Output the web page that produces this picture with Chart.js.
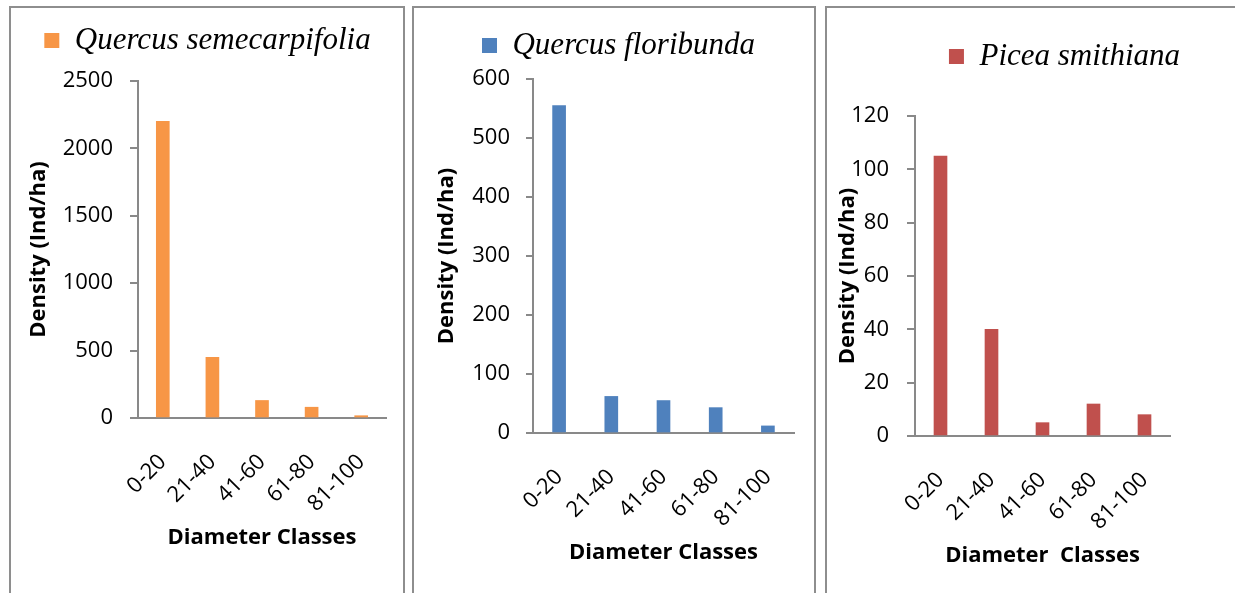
<!DOCTYPE html>
<html>
<head>
<meta charset="utf-8">
<title>Diameter class distribution</title>
<script src="https://cdn.jsdelivr.net/npm/chart.js@4.4.1/dist/chart.umd.min.js"></script>
<style>
    html, body { margin: 0; padding: 0; background: #fff; overflow: hidden; }
    body { position: relative; width: 1235px; height: 593px; }
    .frame { position: absolute; top: 6px; height: 640px; border: 2px solid #8e8e8e; border-bottom: none; box-sizing: border-box; }
    canvas { position: absolute; top: 0; }
</style>
</head>
<body>
<div class="frame" style="left: 9px; width: 396px;"></div>
<div class="frame" style="left: 412px; width: 404px;"></div>
<div class="frame" style="left: 825px; width: 500px;"></div>

<canvas id="chart-semecarpifolia" width="395" height="593" style="left: 10px;"></canvas>
<canvas id="chart-floribunda" width="402" height="593" style="left: 413px;"></canvas>
<canvas id="chart-smithiana" width="477" height="593" style="left: 826px;"></canvas>

<script>
// density (individuals per hectare) by diameter class
const diameterClasses = ['0-20', '21-40', '41-60', '61-80', '81-100'];

const semecarpifoliaDensity = [2200, 450, 130, 80, 17];
const floribundaDensity = [555, 62, 55, 43, 12];
const smithianaDensity = [105, 40, 5, 12, 8];

const semecarpifoliaTicks = [0, 500, 1000, 1500, 2000, 2500];
const floribundaTicks = [0, 100, 200, 300, 400, 500, 600];
const smithianaTicks = [0, 20, 40, 60, 80, 100, 120];

const axisGray = '#898989';
const tickFont = { family: "'Open Sans', sans-serif", size: 22 };
const titleFont = { family: "'Open Sans', sans-serif", size: 22, weight: 'bold' };
const legendFont = { family: "'Liberation Serif', 'Times New Roman', serif", size: 31, style: 'italic' };

// one entry per species panel; the numbers here only place things inside each canvas
const panels = [
    {
        canvasId: 'chart-semecarpifolia',
        species: 'Quercus semecarpifolia',
        color: '#F79646',
        values: semecarpifoliaDensity,
        ticks: semecarpifoliaTicks,
        xTitle: 'Diameter Classes',
        padding: { left: 19, right: 19, top: 15, bottom: 0 },
        legendGap: 15, rightGutter: 0,
        yWidth: 109, yTitlePad: -3, tickLength: 8, yTickPad: 17,
        xHeight: 175, xTitlePad: 42
    },
    {
        canvasId: 'chart-floribunda',
        species: 'Quercus floribunda',
        color: '#4F81BD',
        values: floribundaDensity,
        ticks: floribundaTicks,
        xTitle: 'Diameter Classes',
        padding: { left: 30, right: 21, top: 20, bottom: 0 },
        legendGap: 8, rightGutter: 0,
        yWidth: 90, yTitlePad: -9, tickLength: 7, yTickPad: 16,
        xHeight: 160, xTitlePad: 27
    },
    {
        // this canvas runs past the page edge, the empty gutter keeps the legend centred
        canvasId: 'chart-smithiana',
        species: 'Picea smithiana',
        color: '#C0504D',
        values: smithianaDensity,
        ticks: smithianaTicks,
        xTitle: 'Diameter  Classes',
        padding: { left: 0, right: 0, top: 31, bottom: 0 },
        legendGap: 34, rightGutter: 133,
        yWidth: 89, yTitlePad: 9, tickLength: 8, yTickPad: 18,
        xHeight: 157, xTitlePad: 24
    }
];

function buildPanel(p) {
    const canvas = document.getElementById(p.canvasId);
    if (!canvas) {
        console.error('Canvas element not found:', p.canvasId);
        return null;
    }

    const scales = {
        x: {
            afterFit: scale => { scale.height = p.xHeight; },
            grid: { display: false },
            border: { color: axisGray, width: 2 },
            ticks: {
                autoSkip: false,
                minRotation: 45,
                maxRotation: 45,
                padding: 23,
                color: '#000',
                font: tickFont
            },
            title: {
                display: true,
                text: p.xTitle,
                color: '#000',
                font: titleFont,
                padding: { top: 0, bottom: p.xTitlePad }
            }
        },
        y: {
            min: p.ticks[0],
            max: p.ticks[p.ticks.length - 1],
            afterBuildTicks: scale => {
                scale.ticks = p.ticks.map(v => ({ value: v }));
            },
            afterFit: scale => { scale.width = p.yWidth; },
            grid: {
                drawOnChartArea: false,
                drawTicks: true,
                tickLength: p.tickLength,
                color: axisGray,
                lineWidth: 2
            },
            border: { color: axisGray, width: 2 },
            ticks: {
                padding: p.yTickPad,
                color: '#000',
                font: tickFont,
                callback: value => String(value)
            },
            title: {
                display: true,
                text: 'Density (Ind/ha)',
                color: '#000',
                font: titleFont,
                padding: { top: p.yTitlePad, bottom: 0 }
            }
        }
    };

    if (p.rightGutter > 0) {
        // blank axis on the right, only reserves room
        scales.gutter = {
            type: 'linear',
            position: 'right',
            grid: { display: false },
            border: { display: false },
            ticks: { display: false },
            afterFit: scale => { scale.width = p.rightGutter; }
        };
    }

    return new Chart(canvas, {
        type: 'bar',
        data: {
            labels: diameterClasses,
            datasets: [{
                label: p.species,
                data: p.values,
                backgroundColor: p.color,
                borderWidth: 0,
                barThickness: 13
            }]
        },
        options: {
            responsive: false,
            animation: false,
            events: [],
            layout: { padding: p.padding },
            scales: scales,
            plugins: {
                legend: {
                    display: true,
                    position: 'top',
                    align: 'center',
                    labels: {
                        boxWidth: 15,
                        boxHeight: 15,
                        padding: 10,
                        color: '#000',
                        font: legendFont
                    }
                },
                // empty title used as a spacer between the legend and the plot
                title: {
                    display: true,
                    text: '',
                    weight: 500,
                    padding: { top: p.legendGap, bottom: 0 },
                    font: { size: 1, lineHeight: 0 }
                },
                tooltip: { enabled: false }
            }
        }
    });
}

function initializeCharts() {
    panels.forEach(buildPanel);
}

if (document.readyState === 'loading') {
    document.addEventListener('DOMContentLoaded', initializeCharts);
} else {
    initializeCharts();
}
</script>
</body>
</html>
